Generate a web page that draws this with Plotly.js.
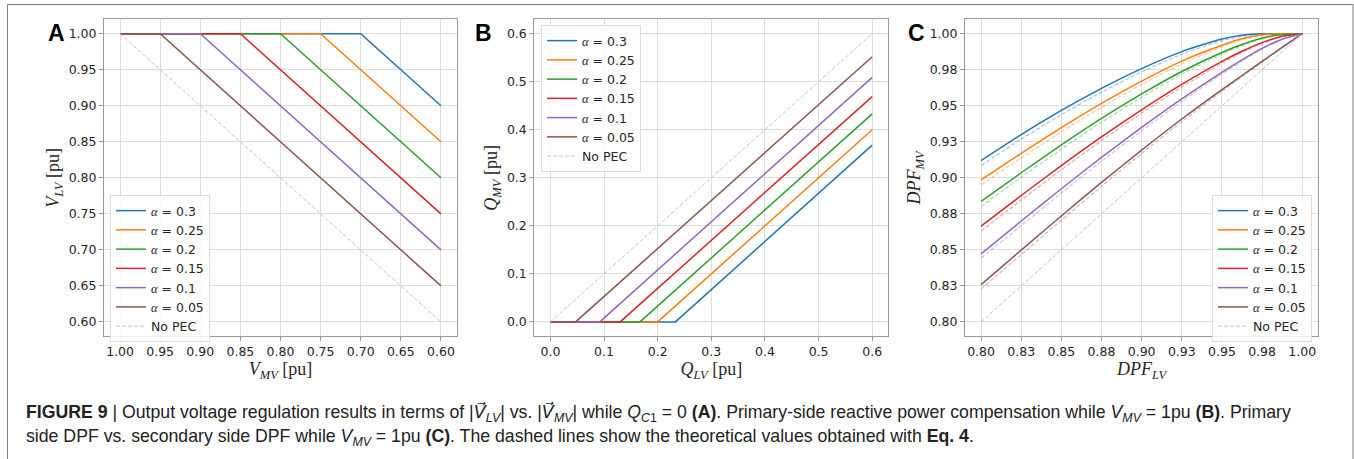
<!DOCTYPE html>
<html><head><meta charset="utf-8">
<script src="https://cdn.plot.ly/plotly-3.0.1.min.js"></script>
<style>html,body{margin:0;padding:0;background:#fff}#chart{width:1354px;height:459px}</style>
</head><body><div id="chart"></div>
<script>
// ---------- data ----------
const alphaLabels = ['0.3', '0.25', '0.2', '0.15', '0.1', '0.05'];

// Panel A: V_LV vs V_MV (breakpoints)
const A_x = [[1.00, 0.70, 0.60], [1.00, 0.75, 0.60], [1.00, 0.80, 0.60], [1.00, 0.85, 0.60], [1.00, 0.90, 0.60], [1.00, 0.95, 0.60]];
const A_y = [[1.00, 1.00, 0.90], [1.00, 1.00, 0.85], [1.00, 1.00, 0.80], [1.00, 1.00, 0.75], [1.00, 1.00, 0.70], [1.00, 1.00, 0.65]];
const A_noPEC_x = [1.00, 0.60];
const A_noPEC_y = [1.00, 0.60];

// Panel B: Q_MV vs Q_LV (breakpoints)
const B_x = [[0, 0.233, 0.6], [0, 0.200, 0.6], [0, 0.167, 0.6], [0, 0.130, 0.6], [0, 0.092, 0.6], [0, 0.047, 0.6]];
const B_y = [[0, 0, 0.368], [0, 0, 0.400], [0, 0, 0.433], [0, 0, 0.469], [0, 0, 0.509], [0, 0, 0.552]];
const B_noPEC_x = [0, 0.6];
const B_noPEC_y = [0, 0.6];

// Panel C: DPF_MV vs DPF_LV
const C_x = [0.80, 0.825, 0.85, 0.875, 0.90, 0.925, 0.95, 0.9625, 0.975, 0.9875, 1.00];
const C_sim = [
  [0.9120, 0.9300, 0.9468, 0.9621, 0.9758, 0.9876, 0.9964, 0.9990, 1.0000, 1.0000, 1.0000],
  [0.8986, 0.9170, 0.9348, 0.9516, 0.9671, 0.9810, 0.9920, 0.9965, 0.9992, 1.0000, 1.0000],
  [0.8836, 0.9035, 0.9228, 0.9412, 0.9582, 0.9738, 0.9870, 0.9925, 0.9970, 0.9995, 1.0000],
  [0.8664, 0.8877, 0.9085, 0.9284, 0.9472, 0.9648, 0.9808, 0.9878, 0.9938, 0.9982, 1.0000],
  [0.8472, 0.8700, 0.8924, 0.9142, 0.9350, 0.9548, 0.9732, 0.9818, 0.9898, 0.9962, 1.0000],
  [0.8259, 0.8498, 0.8735, 0.8968, 0.9192, 0.9408, 0.9612, 0.9710, 0.9808, 0.9905, 1.0000]
];
const C_theory = [
  [0.9085, 0.9268, 0.9438, 0.9594, 0.9735, 0.9858, 0.9952, 0.9982, 0.9995, 0.9999, 1.0000],
  [0.8951, 0.9138, 0.9318, 0.9489, 0.9648, 0.9792, 0.9908, 0.9957, 0.9987, 0.9998, 1.0000],
  [0.8800, 0.9003, 0.9198, 0.9385, 0.9559, 0.9720, 0.9858, 0.9917, 0.9965, 0.9993, 1.0000],
  [0.8629, 0.8845, 0.9055, 0.9257, 0.9449, 0.9630, 0.9796, 0.9870, 0.9933, 0.9980, 1.0000],
  [0.8442, 0.8668, 0.8894, 0.9115, 0.9327, 0.9530, 0.9720, 0.9810, 0.9893, 0.9960, 1.0000],
  [0.8229, 0.8466, 0.8705, 0.8941, 0.9169, 0.9390, 0.9600, 0.9702, 0.9803, 0.9903, 1.0000]
];
const C_noPEC_x = [0.80, 1.00];
const C_noPEC_y = [0.80, 1.00];

// tick labels
const A_ticks = [1.00, 0.95, 0.90, 0.85, 0.80, 0.75, 0.70, 0.65, 0.60];
const A_tickText = ['1.00', '0.95', '0.90', '0.85', '0.80', '0.75', '0.70', '0.65', '0.60'];
const B_ticks = [0, 0.1, 0.2, 0.3, 0.4, 0.5, 0.6];
const B_tickText = ['0.0', '0.1', '0.2', '0.3', '0.4', '0.5', '0.6'];
const C_ticks = [0.80, 0.825, 0.85, 0.875, 0.90, 0.925, 0.95, 0.975, 1.00];
const C_tickText = ['0.80', '0.83', '0.85', '0.88', '0.90', '0.93', '0.95', '0.98', '1.00'];

// ---------- style ----------
const colors = ['#1f77b4', '#ff7f0e', '#2ca02c', '#d62728', '#9467bd', '#8c564b'];
const lightColors = ['rgba(31,119,180,0.4)', 'rgba(255,127,14,0.4)', 'rgba(44,160,44,0.4)', 'rgba(214,39,40,0.4)', 'rgba(148,103,189,0.4)', 'rgba(140,86,75,0.4)'];
const noPECColor = '#c4c4c4';
const W = 1354, H = 459;
const px = v => v / W, py = v => 1 - v / H;
const legName = a => '<span style="font-family:\'Liberation Serif\',serif"><i>α</i></span> = ' + a;

const traces = [];
function addSet(xs, ys, xa, ya, leg) {
  for (let i = 0; i < 6; i++) {
    traces.push({x: xs[i], y: ys[i], xaxis: xa, yaxis: ya, legend: leg, mode: 'lines',
      name: legName(alphaLabels[i]), line: {color: colors[i], width: 1.5}, hoverinfo: 'skip'});
  }
}
addSet(A_x, A_y, 'x', 'y', 'legend');
traces.push({x: A_noPEC_x, y: A_noPEC_y, xaxis: 'x', yaxis: 'y', legend: 'legend', mode: 'lines', name: 'No PEC',
  line: {color: noPECColor, width: 1, dash: '4px,2px'}});
addSet(B_x, B_y, 'x2', 'y2', 'legend2');
traces.push({x: B_noPEC_x, y: B_noPEC_y, xaxis: 'x2', yaxis: 'y2', legend: 'legend2', mode: 'lines', name: 'No PEC',
  line: {color: noPECColor, width: 1, dash: '4px,2px'}});
for (let i = 0; i < 6; i++) {
  traces.push({x: C_x, y: C_sim[i], xaxis: 'x3', yaxis: 'y3', legend: 'legend3', mode: 'lines',
    name: legName(alphaLabels[i]), line: {color: colors[i], width: 1.5, shape: 'spline', smoothing: 0.6}});
  traces.push({x: C_x, y: C_theory[i], xaxis: 'x3', yaxis: 'y3', mode: 'lines', showlegend: false,
    line: {color: lightColors[i], width: 1.2, dash: '4px,2px', shape: 'spline', smoothing: 0.6}});
}
traces.push({x: C_noPEC_x, y: C_noPEC_y, xaxis: 'x3', yaxis: 'y3', legend: 'legend3', mode: 'lines', name: 'No PEC',
  line: {color: noPECColor, width: 1, dash: '4px,2px'}});

const tickFont = {family: 'DejaVu Sans, sans-serif', size: 12.5, color: '#262626'};
const titleFont = {family: 'Liberation Serif, serif', size: 18, color: '#262626'};
function ax(extra) {
  return Object.assign({showgrid: true, gridcolor: '#dddddd', gridwidth: 1, showline: true, mirror: true,
    linecolor: '#9a9a9a', linewidth: 1, ticks: 'outside', ticklen: 4, tickcolor: '#9a9a9a', zeroline: false,
    tickfont: tickFont, automargin: false, fixedrange: true, tickmode: 'array'}, extra);
}
const yDom = [1 - 336.3 / H, 1 - 19.3 / H];
const legBase = {bgcolor: 'rgba(255,255,255,0.85)', bordercolor: '#dddddd', borderwidth: 1,
  font: {family: 'DejaVu Sans, sans-serif', size: 12.5, color: '#262626'}, xanchor: 'left', yanchor: 'top', tracegroupgap: 0};

const vec = s => '|<span style="font-family:\'DejaVu Sans\'"><i>V\u20D7</i></span><sub><i>' + s + '</i></sub>|';
const capFont = {family: 'Liberation Sans Narrow, Arial Narrow, Liberation Sans, sans-serif', size: 17.7, color: '#222'};

const layout = {
  width: W, height: H, margin: {l: 0, r: 0, t: 0, b: 0}, paper_bgcolor: '#fff', plot_bgcolor: '#fff',
  showlegend: true,
  xaxis: ax({domain: [px(104), px(457)], range: [1.02, 0.58], tickvals: A_ticks, ticktext: A_tickText, anchor: 'y',
    title: {text: '<i>V</i><sub><i>MV</i></sub> [pu]', font: titleFont, standoff: 3}}),
  yaxis: ax({domain: yDom, range: [0.58, 1.02], tickvals: A_ticks, ticktext: A_tickText, anchor: 'x',
    title: {text: '<i>V</i><sub><i>LV</i></sub> [pu]', font: titleFont, standoff: 4}}),
  xaxis2: ax({domain: [px(534.3), px(888.3)], range: [-0.03, 0.63], tickvals: B_ticks, ticktext: B_tickText, anchor: 'y2',
    title: {text: '<i>Q</i><sub><i>LV</i></sub> [pu]', font: titleFont, standoff: 3}}),
  yaxis2: ax({domain: yDom, range: [-0.03, 0.63], tickvals: B_ticks, ticktext: B_tickText, anchor: 'x2',
    title: {text: '<i>Q</i><sub><i>MV</i></sub> [pu]', font: titleFont, standoff: 4}}),
  xaxis3: ax({domain: [px(965), px(1318.3)], range: [0.79, 1.01], tickvals: C_ticks, ticktext: C_tickText, anchor: 'y3',
    title: {text: '<i>DPF</i><sub><i>LV</i></sub>', font: titleFont, standoff: 3}}),
  yaxis3: ax({domain: yDom, range: [0.79, 1.01], tickvals: C_ticks, ticktext: C_tickText, anchor: 'x3',
    title: {text: '<i>DPF</i><sub><i>MV</i></sub>', font: titleFont, standoff: 4}}),
  legend: Object.assign({}, legBase, {x: px(110), y: py(195)}),
  legend2: Object.assign({}, legBase, {x: px(541), y: py(25)}),
  legend3: Object.assign({}, legBase, {x: px(1212), y: py(195)}),
  shapes: [{type: 'rect', xref: 'paper', yref: 'paper', x0: px(7.5), x1: px(1353), y0: -0.05, y1: py(4.5),
    line: {color: '#7a7a7a', width: 1}, fillcolor: 'rgba(0,0,0,0)'}],
  annotations: [
    {text: '<b>A</b>', x: px(56), y: py(33), xref: 'paper', yref: 'paper', showarrow: false, xanchor: 'center', yanchor: 'middle',
      font: {family: 'Liberation Sans, Arial, sans-serif', size: 23, color: '#000'}},
    {text: '<b>B</b>', x: px(483.5), y: py(33), xref: 'paper', yref: 'paper', showarrow: false, xanchor: 'center', yanchor: 'middle',
      font: {family: 'Liberation Sans, Arial, sans-serif', size: 23, color: '#000'}},
    {text: '<b>C</b>', x: px(916), y: py(33), xref: 'paper', yref: 'paper', showarrow: false, xanchor: 'center', yanchor: 'middle',
      font: {family: 'Liberation Sans, Arial, sans-serif', size: 23, color: '#000'}},
    {text: '<b>FIGURE 9</b> | Output voltage regulation results in terms of ' + vec('LV') + ' vs. ' + vec('MV') + ' while <i>Q</i><sub><i>C</i>1</sub> = 0 <b>(A)</b>. Primary-side reactive power compensation while <i>V</i><sub><i>MV</i></sub> = 1pu <b>(B)</b>. Primary',
      x: px(24), y: py(413), xref: 'paper', yref: 'paper', showarrow: false, xanchor: 'left', yanchor: 'middle', align: 'left',
      font: capFont},
    {text: 'side DPF vs. secondary side DPF while <i>V</i><sub><i>MV</i></sub> = 1pu <b>(C)</b>. The dashed lines show the theoretical values obtained with <b>Eq. 4</b>.',
      x: px(24), y: py(437), xref: 'paper', yref: 'paper', showarrow: false, xanchor: 'left', yanchor: 'middle', align: 'left',
      font: capFont}
  ]
};
Plotly.newPlot('chart', traces, layout, {staticPlot: true, displayModeBar: false});
</script></body></html>
